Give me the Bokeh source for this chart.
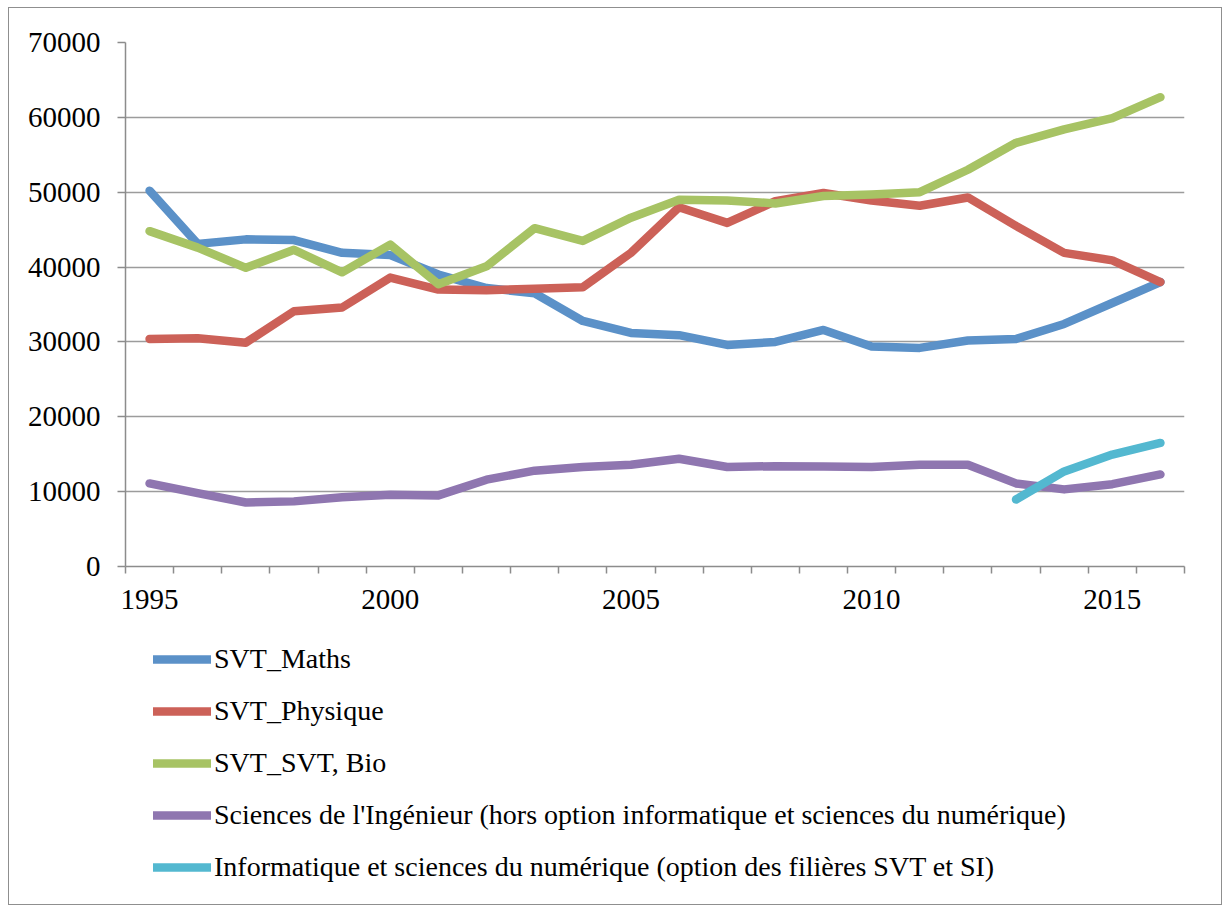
from bokeh.plotting import figure
from bokeh.layouts import column
from bokeh.models import Range1d, FixedTicker, Legend, LegendItem
from bokeh.embed import file_html
from bokeh.resources import INLINE

years = list(range(1995, 2017))
svt_maths = [50200, 43100, 43700, 43600, 41900, 41600, 39000, 37200, 36500, 32800, 31200,
             30900, 29600, 30000, 31600, 29400, 29200, 30200, 30400, 32400, 35200, 38000]
svt_physique = [30400, 30500, 29900, 34100, 34600, 38600, 37000, 36900, 37100, 37300, 41900,
                48000, 45900, 48800, 49900, 48900, 48200, 49300, 45500, 41900, 40900, 38000]
svt_bio = [44800, 42600, 39900, 42300, 39300, 43000, 37700, 40100, 45200, 43500, 46600,
           49000, 48900, 48500, 49500, 49700, 50000, 53000, 56600, 58400, 59900, 62700]
si = [11100, 9800, 8550, 8700, 9250, 9600, 9500, 11600, 12800, 13300, 13600,
      14400, 13300, 13400, 13350, 13300, 13600, 13600, 11100, 10300, 11000, 12300]
isn_years = [2013, 2014, 2015, 2016]
isn = [8950, 12700, 14950, 16500]

labels = ["SVT_Maths", "SVT_Physique", "SVT_SVT, Bio",
          "Sciences de l'Ingénieur (hors option informatique et sciences du numérique)",
          "Informatique et sciences du numérique (option des filières SVT et SI)"]
colors = ["#5B91C8", "#CC6158", "#A7C364", "#8F76B0", "#53B8D0"]
year_labels = [1995, 2000, 2005, 2010, 2015]
y_ticks = [0, 10000, 20000, 30000, 40000, 50000, 60000, 70000]

FONT = "Liberation Serif"
LW = 8.5

series = [(years, svt_maths), (years, svt_physique), (years, svt_bio), (years, si), (isn_years, isn)]

# ---- main chart ----
p = figure(frame_width=1059, frame_height=524, output_backend="svg", toolbar_location=None,
           x_range=Range1d(1994.5, 2016.5), y_range=Range1d(0, 70000),
           min_border_left=116, min_border_right=37, min_border_top=34, min_border_bottom=62)
p.outline_line_color = None
p.background_fill_color = "white"
p.border_fill_color = "white"

p.xgrid.grid_line_color = None
p.ygrid.grid_line_color = "#9c9c9c"
p.ygrid.grid_line_width = 1.5

p.yaxis.ticker = FixedTicker(ticks=y_ticks)
p.yaxis.axis_line_color = "#8c8c8c"
p.yaxis.axis_line_width = 1.5
p.yaxis.major_tick_line_color = "#8c8c8c"
p.yaxis.major_tick_line_width = 1.5
p.yaxis.major_tick_out = 8
p.yaxis.major_tick_in = 0
p.yaxis.minor_tick_line_color = None
p.yaxis.major_label_standoff = 17
p.yaxis.major_label_text_font = FONT
p.yaxis.major_label_text_font_size = "29px"
p.yaxis.major_label_text_color = "black"
p.yaxis.formatter.use_scientific = False

p.xaxis.ticker = FixedTicker(ticks=year_labels, minor_ticks=[y - 0.5 for y in years] + [2016.5])
p.xaxis.axis_line_color = "#8c8c8c"
p.xaxis.axis_line_width = 1.5
p.xaxis.major_tick_line_color = None
p.xaxis.minor_tick_line_color = "#8c8c8c"
p.xaxis.minor_tick_line_width = 1.5
p.xaxis.minor_tick_out = 7
p.xaxis.minor_tick_in = 0
p.xaxis.major_label_standoff = 16
p.xaxis.major_label_text_font = FONT
p.xaxis.major_label_text_font_size = "29px"
p.xaxis.major_label_text_color = "black"

for (xs, ys), c in zip(series, colors):
    p.line(xs, ys, line_color=c, line_width=LW, line_cap="round", line_join="round")

# ---- legend panel (series drawn out of view, only the legend shows) ----
q = figure(width=1212, height=276, output_backend="svg", toolbar_location=None,
           x_range=Range1d(0, 1), y_range=Range1d(0, 1),
           min_border_left=0, min_border_right=0, min_border_top=0, min_border_bottom=0)
q.axis.visible = False
q.grid.visible = False
q.outline_line_color = None
q.background_fill_color = "white"
q.border_fill_color = "white"

items = []
for (xs, ys), l, c in zip(series, labels, colors):
    r = q.line(xs, ys, line_color=c, line_width=LW, line_cap="round", line_join="round")
    items.append(LegendItem(label=l, renderers=[r]))

legend = Legend(items=items, location=(28, 21), orientation="vertical")
legend.margin = 0
legend.padding = 0
legend.border_line_color = None
legend.background_fill_alpha = 0
legend.label_text_font = FONT
legend.label_text_font_size = "28px"
legend.label_text_color = "black"
legend.glyph_width = 58
legend.glyph_height = 30
legend.label_height = 30
legend.label_standoff = 3
legend.spacing = 20
q.add_layout(legend, "center")

layout = column(p, q, spacing=0)
layout.margin = (7, 0, 0, 8)
layout.styles = {"border": "1px solid #8f8f8f", "background-color": "white"}

open("out.html", "w").write(file_html(layout, INLINE))
